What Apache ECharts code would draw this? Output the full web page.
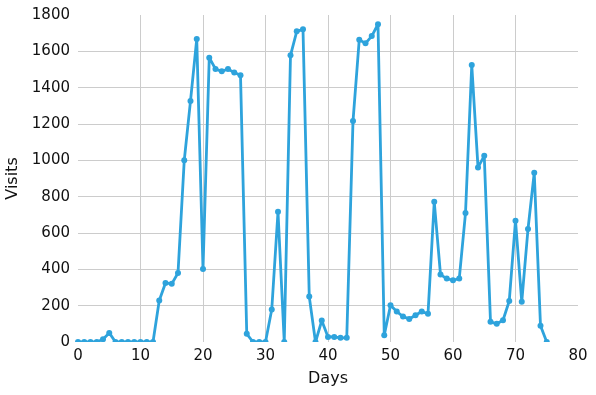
<!DOCTYPE html>
<html>
<head>
<meta charset="utf-8">
<script src="https://cdn.jsdelivr.net/npm/echarts@6/dist/echarts.min.js"></script>
<style>
  html, body { margin: 0; padding: 0; background: #fff; }
  #main { width: 596px; height: 395px; }
</style>
</head>
<body>
<div id="main"></div>
<script>
var days = [];
for (var i = 0; i <= 75; i++) days.push(i);

var visits = [
  0, 0, 0, 0, 15, 50, 0, 0, 0, 0,
  0, 0, 0, 228, 325, 320, 380, 1000, 1327, 1668,
  402, 1565, 1503, 1490, 1503, 1483, 1468, 45, 0, 0,
  0, 179, 717, 0, 1578, 1710, 1721, 250, 0, 118,
  28, 28, 23, 23, 1216, 1664, 1644, 1684, 1749, 37,
  202, 168, 140, 127, 147, 168, 155, 772, 371, 349,
  340, 349, 710, 1525, 961, 1025, 111, 100, 120, 226,
  668, 221, 622, 932, 89, 0
];

var chartDom = document.getElementById('main');
var myChart = echarts.init(chartDom);
var option;

var font = 'DejaVu Sans';

option = {
  animation: false,
  grid: { left: 78, right: 18, top: 15, bottom: 53, containLabel: false, outerBoundsMode: 'none' },
  // white strip under the plot area, so marks at 0 look cut off like the original
  graphic: [
    { type: 'rect', left: 74, top: 342, z: 100, shape: { width: 508, height: 6 }, style: { fill: '#fff' } }
  ],
  xAxis: {
    type: 'value',
    min: 0,
    max: 80,
    interval: 10,
    name: 'Days',
    nameLocation: 'middle',
    nameGap: 29,
    nameTextStyle: { fontFamily: font, fontSize: 16, color: '#111' },
    axisLine: { show: false },
    axisTick: { show: false },
    axisLabel: { fontFamily: font, fontSize: 15, color: '#111', margin: 7 },
    splitLine: { show: true, showMinLine: false, showMaxLine: false, lineStyle: { color: '#cccccc', width: 1 } }
  },
  yAxis: {
    type: 'value',
    min: 0,
    max: 1800,
    interval: 200,
    name: 'Visits',
    nameLocation: 'middle',
    nameGap: 54,
    nameTextStyle: { fontFamily: font, fontSize: 16, color: '#111' },
    axisLine: { show: false },
    axisTick: { show: false },
    axisLabel: { fontFamily: font, fontSize: 15, color: '#111', margin: 8, formatter: function (v) { return String(v); } },
    splitLine: { show: true, showMinLine: false, showMaxLine: false, lineStyle: { color: '#cccccc', width: 1 } }
  },
  series: [
    {
      type: 'line',
      data: days.map(function (d, i) { return [d, visits[i]]; }),
      symbol: 'circle',
      symbolSize: 6,
      showAllSymbol: true,
      clip: false,
      itemStyle: { color: '#2ea3dc' },
      lineStyle: { color: '#2ea3dc', width: 2.8 }
    }
  ]
};

option && myChart.setOption(option);
</script>
</body>
</html>
